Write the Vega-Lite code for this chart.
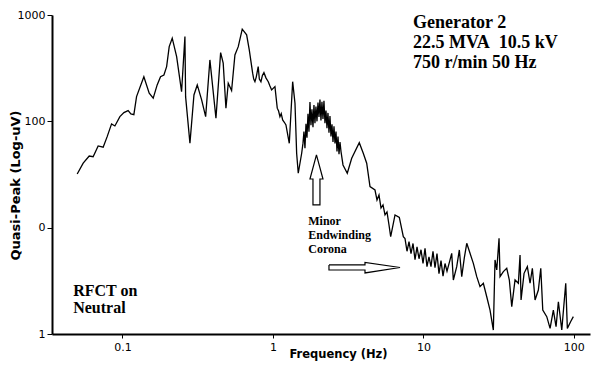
{
  "$schema": "https://vega.github.io/schema/vega-lite/v6.json",
  "width": 538,
  "height": 319,
  "autosize": {"type": "none"},
  "padding": {"left": 52, "top": 15, "right": 10, "bottom": 40},
  "background": "white",
  "config": {"view": {"stroke": null}, "axis": {"grid": false}},
  "datasets": {
    "spectrum": [
      {"f": 0.0500, "v": 32.0}, {"f": 0.0548, "v": 40.4}, {"f": 0.0601, "v": 47.2}, {"f": 0.0638, "v": 46.5},
      {"f": 0.0689, "v": 58.7}, {"f": 0.0744, "v": 57.1}, {"f": 0.0791, "v": 71.8}, {"f": 0.0846, "v": 94.6},
      {"f": 0.0890, "v": 90.5}, {"f": 0.0961, "v": 110.7}, {"f": 0.1022, "v": 120.7}, {"f": 0.109, "v": 126},
      {"f": 0.1137, "v": 117.4}, {"f": 0.119, "v": 115.6}, {"f": 0.124, "v": 170.7}, {"f": 0.1387, "v": 263},
      {"f": 0.1505, "v": 183.8}, {"f": 0.160, "v": 165}, {"f": 0.170, "v": 220}, {"f": 0.179, "v": 263},
      {"f": 0.1885, "v": 273}, {"f": 0.1965, "v": 327}, {"f": 0.2044, "v": 504}, {"f": 0.2141, "v": 605},
      {"f": 0.229, "v": 406}, {"f": 0.247, "v": 190}, {"f": 0.260, "v": 626}, {"f": 0.2627, "v": 170.7},
      {"f": 0.2807, "v": 62.2}, {"f": 0.2985, "v": 177}, {"f": 0.314, "v": 220}, {"f": 0.3357, "v": 159},
      {"f": 0.357, "v": 110.7}, {"f": 0.381, "v": 378}, {"f": 0.418, "v": 107}, {"f": 0.449, "v": 443},
      {"f": 0.467, "v": 352}, {"f": 0.487, "v": 133}, {"f": 0.5045, "v": 228}, {"f": 0.531, "v": 194.5},
      {"f": 0.5588, "v": 421}, {"f": 0.588, "v": 504}, {"f": 0.625, "v": 735}, {"f": 0.6685, "v": 650},
      {"f": 0.696, "v": 470}, {"f": 0.733, "v": 283.5}, {"f": 0.745, "v": 250}, {"f": 0.759, "v": 236},
      {"f": 0.775, "v": 262}, {"f": 0.798, "v": 327}, {"f": 0.812, "v": 250}, {"f": 0.832, "v": 236},
      {"f": 0.851, "v": 270}, {"f": 0.871, "v": 287}, {"f": 0.900, "v": 255}, {"f": 0.931, "v": 236},
      {"f": 0.955, "v": 215}, {"f": 0.980, "v": 197.4},
      {"f": 1.031, "v": 212}, {"f": 1.068, "v": 133}, {"f": 1.090, "v": 125}, {"f": 1.113, "v": 110.7},
      {"f": 1.135, "v": 118}, {"f": 1.160, "v": 103}, {"f": 1.190, "v": 98},
      {"f": 1.220, "v": 92.5}, {"f": 1.284, "v": 62.2}, {"f": 1.352, "v": 236}, {"f": 1.401, "v": 148},
      {"f": 1.437, "v": 50.1}, {"f": 1.473, "v": 32.5}, {"f": 1.552, "v": 50.1},
      {"f": 1.583, "v": 62}, {"f": 1.607, "v": 80}, {"f": 1.632, "v": 56}, {"f": 1.658, "v": 95},
      {"f": 1.683, "v": 70}, {"f": 1.709, "v": 118}, {"f": 1.735, "v": 80}, {"f": 1.762, "v": 152},
      {"f": 1.789, "v": 92}, {"f": 1.816, "v": 130}, {"f": 1.845, "v": 88}, {"f": 1.873, "v": 142},
      {"f": 1.902, "v": 96}, {"f": 1.931, "v": 138}, {"f": 1.962, "v": 100}, {"f": 1.992, "v": 150},
      {"f": 2.023, "v": 110}, {"f": 2.053, "v": 160}, {"f": 2.085, "v": 102}, {"f": 2.117, "v": 153},
      {"f": 2.150, "v": 105}, {"f": 2.183, "v": 156}, {"f": 2.217, "v": 96}, {"f": 2.251, "v": 126},
      {"f": 2.286, "v": 86}, {"f": 2.321, "v": 120}, {"f": 2.357, "v": 78}, {"f": 2.393, "v": 112},
      {"f": 2.430, "v": 72}, {"f": 2.468, "v": 94}, {"f": 2.506, "v": 64}, {"f": 2.545, "v": 90},
      {"f": 2.584, "v": 62}, {"f": 2.624, "v": 80}, {"f": 2.665, "v": 52}, {"f": 2.706, "v": 72},
      {"f": 2.748, "v": 49}, {"f": 2.790, "v": 64}, {"f": 2.833, "v": 52}, {"f": 2.921, "v": 38.9},
      {"f": 3.119, "v": 32.5}, {"f": 3.337, "v": 45.0}, {"f": 3.748, "v": 63.0}, {"f": 3.984, "v": 50.1},
      {"f": 4.198, "v": 40.4}, {"f": 4.416, "v": 24.3},
      {"f": 4.766, "v": 22.6}, {"f": 4.915, "v": 18.2}, {"f": 5.068, "v": 20.3}, {"f": 5.226, "v": 15.3},
      {"f": 5.388, "v": 16.35}, {"f": 5.556, "v": 13.17}, {"f": 5.728, "v": 14.05}, {"f": 5.906, "v": 10.6},
      {"f": 6.06, "v": 8.23}, {"f": 6.476, "v": 13.17}, {"f": 6.917, "v": 12.5}, {"f": 7.353, "v": 8.23},
      {"f": 7.546, "v": 7.9}, {"f": 7.78, "v": 6.0}, {"f": 8.022, "v": 7.4}, {"f": 8.271, "v": 5.7},
      {"f": 8.529, "v": 7.1}, {"f": 8.795, "v": 5.0}, {"f": 9.068, "v": 6.6}, {"f": 9.348, "v": 5.1},
      {"f": 9.64, "v": 6.2}, {"f": 9.94, "v": 4.6}, {"f": 10.25, "v": 6.4}, {"f": 10.56, "v": 4.3},
      {"f": 10.89, "v": 5.3}, {"f": 11.23, "v": 4.3}, {"f": 11.58, "v": 6.0}, {"f": 11.94, "v": 4.2},
      {"f": 12.31, "v": 5.7}, {"f": 12.69, "v": 3.7}, {"f": 13.09, "v": 4.9}, {"f": 13.50, "v": 3.5},
      {"f": 13.92, "v": 4.6}, {"f": 14.35, "v": 3.9},
      {"f": 15.03, "v": 4.97}, {"f": 15.42, "v": 5.74}, {"f": 15.81, "v": 3.22}, {"f": 16.65, "v": 4.30},
      {"f": 17.33, "v": 6.17}, {"f": 17.98, "v": 3.46}, {"f": 18.7, "v": 5.2}, {"f": 19.41, "v": 7.13}, {"f": 20.41, "v": 5.74},
      {"f": 21.47, "v": 4.62}, {"f": 22.62, "v": 3.46}, {"f": 23.78, "v": 2.79}, {"f": 25.02, "v": 3.00},
      {"f": 26.36, "v": 2.24}, {"f": 27.72, "v": 1.68}, {"f": 29.16, "v": 1.09}, {"f": 29.92, "v": 4.97},
      {"f": 30.73, "v": 4.00}, {"f": 31.82, "v": 7.95}, {"f": 32.31, "v": 3.46}, {"f": 33.98, "v": 3.86},
      {"f": 35.8, "v": 4.15}, {"f": 37.25, "v": 3.22}, {"f": 38.65, "v": 1.81}, {"f": 40.64, "v": 3.22},
      {"f": 42.76, "v": 3.00}, {"f": 43.88, "v": 5.54}, {"f": 44.56, "v": 2.09}, {"f": 46.66, "v": 3.72},
      {"f": 49.07, "v": 4.30}, {"f": 51.14, "v": 3.00}, {"f": 52.98, "v": 4.15}, {"f": 55.21, "v": 2.09},
      {"f": 58.07, "v": 2.59}, {"f": 60.26, "v": 4.15}, {"f": 62.13, "v": 1.68}, {"f": 66.05, "v": 1.455},
      {"f": 69.48, "v": 1.13}, {"f": 73.06, "v": 1.68}, {"f": 76.14, "v": 1.17}, {"f": 78.9, "v": 2.01},
      {"f": 83.1, "v": 1.09}, {"f": 88.3, "v": 3.00}, {"f": 90.5, "v": 1.13}, {"f": 95.3, "v": 1.31},
      {"f": 99.2, "v": 1.455}
    ],
    "arrows": [
      {"arrow": "up", "i": 0, "f": 1.946, "v": 48.3},
      {"arrow": "up", "i": 1, "f": 2.150, "v": 28.7},
      {"arrow": "up", "i": 2, "f": 2.053, "v": 28.7},
      {"arrow": "up", "i": 3, "f": 2.053, "v": 16.35},
      {"arrow": "up", "i": 4, "f": 1.845, "v": 16.35},
      {"arrow": "up", "i": 5, "f": 1.845, "v": 28.7},
      {"arrow": "up", "i": 6, "f": 1.762, "v": 28.7},
      {"arrow": "up", "i": 7, "f": 1.946, "v": 48.3},
      {"arrow": "right", "i": 0, "f": 2.357, "v": 4.46},
      {"arrow": "right", "i": 1, "f": 4.09, "v": 4.46},
      {"arrow": "right", "i": 2, "f": 4.09, "v": 4.71},
      {"arrow": "right", "i": 3, "f": 6.99, "v": 4.22},
      {"arrow": "right", "i": 4, "f": 4.09, "v": 3.75},
      {"arrow": "right", "i": 5, "f": 4.09, "v": 4.00},
      {"arrow": "right", "i": 6, "f": 2.357, "v": 4.00},
      {"arrow": "right", "i": 7, "f": 2.357, "v": 4.46}
    ],
    "header": [
      {"text": "Generator 2", "f": 8.53, "v": 756},
      {"text": "22.5 MVA\u00a0 10.5 kV", "f": 8.53, "v": 485},
      {"text": "750 r/min 50 Hz", "f": 8.53, "v": 314.6}
    ],
    "minor": [
      {"text": "Minor", "f": 1.716, "v": 10.6},
      {"text": "Endwinding", "f": 1.716, "v": 7.78},
      {"text": "Corona", "f": 1.716, "v": 5.82}
    ],
    "rfct": [
      {"text": "RFCT on", "f": 0.047, "v": 2.28},
      {"text": "Neutral", "f": 0.047, "v": 1.586}
    ]
  },
  "encoding": {
    "x": {
      "field": "f", "type": "quantitative",
      "scale": {"type": "log", "domain": [0.034, 128], "nice": false, "zero": false},
      "axis": {
        "values": [0.1, 1, 10, 100], "format": "~g",
        "domainColor": "black", "domainWidth": 2,
        "tickColor": "black", "tickSize": 4, "tickWidth": 1,
        "labelFont": "DejaVu Sans", "labelFontSize": 11, "labelColor": "black", "labelPadding": 3,
        "title": "Frequency (Hz)", "titleFont": "DejaVu Sans", "titleFontSize": 11.5, "titleFontWeight": "bold",
        "titleColor": "black", "titleX": 286, "titleY": 20, "titleBaseline": "middle", "titleAlign": "center"
      }
    },
    "y": {
      "field": "v", "type": "quantitative",
      "scale": {"type": "log", "domain": [1, 1000], "nice": false, "zero": false},
      "axis": {
        "values": [1, 10, 100, 1000], "format": "~g",
        "labelExpr": "datum.value == 10 ? '0' : datum.label",
        "domainColor": "black", "domainWidth": 2,
        "tickColor": "black", "tickSize": 5, "tickWidth": 1,
        "labelFont": "DejaVu Sans", "labelFontSize": 11, "labelColor": "black", "labelPadding": 2,
        "title": "Quasi-Peak (Log-uV)", "titleFont": "DejaVu Sans", "titleFontSize": 13, "titleFontWeight": "bold",
        "titleColor": "black", "titleX": -37, "titleY": 170, "titleBaseline": "middle", "titleAlign": "center", "titleAngle": -90
      }
    }
  },
  "layer": [
    {
      "data": {"name": "spectrum"},
      "mark": {"type": "line", "color": "black", "strokeWidth": 1.3}
    },
    {
      "data": {"name": "arrows"},
      "mark": {"type": "line", "color": "black", "strokeWidth": 1.2},
      "encoding": {"detail": {"field": "arrow"}, "order": {"field": "i", "type": "quantitative"}}
    },
    {
      "data": {"name": "header"},
      "mark": {"type": "text", "align": "left", "baseline": "alphabetic", "font": "Liberation Serif", "fontSize": 18, "fontWeight": "bold", "color": "black"},
      "encoding": {"text": {"field": "text"}}
    },
    {
      "data": {"name": "minor"},
      "mark": {"type": "text", "align": "left", "baseline": "alphabetic", "font": "Liberation Serif", "fontSize": 12, "fontWeight": "bold", "color": "black"},
      "encoding": {"text": {"field": "text"}}
    },
    {
      "data": {"name": "rfct"},
      "mark": {"type": "text", "align": "left", "baseline": "alphabetic", "font": "Liberation Serif", "fontSize": 16, "fontWeight": "bold", "color": "black"},
      "encoding": {"text": {"field": "text"}}
    }
  ]
}
